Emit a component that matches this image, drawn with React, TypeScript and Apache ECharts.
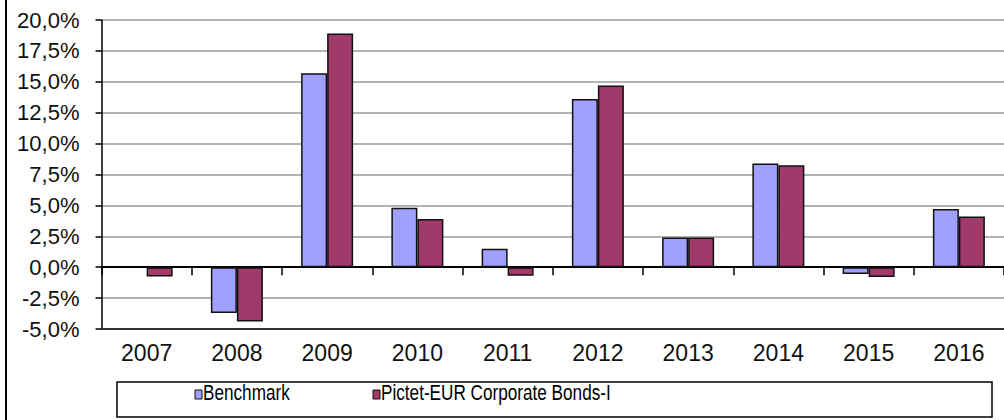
import React, { useEffect, useRef } from "react";
import * as echarts from "echarts";

const years = ["2007", "2008", "2009", "2010", "2011", "2012", "2013", "2014", "2015", "2016"];
const benchmark = [null, -3.7, 15.7, 4.8, 1.5, 13.6, 2.4, 8.4, -0.55, 4.7];
const pictet = [-0.75, -4.4, 18.9, 3.9, -0.7, 14.7, 2.4, 8.25, -0.8, 4.1];
const seriesNames = ["Benchmark", "Pictet-EUR Corporate Bonds-I"];
const seriesColors = ["#A0A0FF", "#A03A6B"];

const FONT = "'Liberation Sans', Arial, sans-serif";

export default function App() {
  const ref = useRef<HTMLDivElement>(null);
  useEffect(() => {
    if (!ref.current) return;
    const chart = echarts.init(ref.current, null, { renderer: "svg" });
    const fmt = (v: number) => v.toFixed(1).replace(".", ",") + "%";
    const legendX = [195, 373];
    const legendItems = seriesNames.flatMap((name, i) => [
      {
        type: "rect",
        shape: { x: legendX[i], y: 390, width: 7, height: 9 },
        style: { fill: seriesColors[i], stroke: "#111", lineWidth: 1 },
      },
      {
        type: "text",
        x: legendX[i] + 8,
        y: 392,
        scaleX: 0.78,
        style: {
          text: name,
          font: "22px 'Liberation Sans', Arial, sans-serif",
          fill: "#000",
          verticalAlign: "middle",
        },
      },
    ]);
    chart.setOption({
      animation: false,
      backgroundColor: "#ffffff",
      textStyle: { fontFamily: FONT },
      grid: { left: 101.5, right: -4, top: 20, bottom: 91, containLabel: false },
      xAxis: [
        {
          type: "category",
          data: years,
          position: "bottom",
          axisLine: { onZero: true, lineStyle: { color: "#000", width: 2 } },
          axisTick: { show: true, length: 8, lineStyle: { color: "#000", width: 1.5 } },
          axisLabel: { show: false },
          splitLine: { show: false },
        },
        {
          type: "category",
          data: years,
          position: "bottom",
          axisLine: { onZero: false, lineStyle: { color: "#333", width: 2 } },
          axisTick: { show: false },
          axisLabel: { show: true, margin: 12, fontSize: 23, color: "#111", fontFamily: FONT },
          splitLine: { show: false },
        },
      ],
      yAxis: {
        type: "value",
        min: -5,
        max: 20,
        interval: 2.5,
        axisLine: { show: true, lineStyle: { color: "#000", width: 1.5 } },
        axisTick: { show: true, length: 6, lineStyle: { color: "#000", width: 1.5 } },
        axisLabel: { formatter: fmt, fontSize: 22, color: "#111", margin: 22, fontFamily: FONT },
        splitLine: { show: true, lineStyle: { color: "#9a9a9a", width: 1.5 } },
      },
      series: [
        {
          name: seriesNames[0],
          type: "bar",
          xAxisIndex: 0,
          data: benchmark,
          barWidth: 26,
          barGap: "0%",
          itemStyle: { color: seriesColors[0], borderColor: "#111", borderWidth: 1.5 },
        },
        {
          name: seriesNames[1],
          type: "bar",
          xAxisIndex: 0,
          data: pictet,
          barWidth: 26,
          barGap: "0%",
          itemStyle: { color: seriesColors[1], borderColor: "#111", borderWidth: 1.5 },
        },
      ],
      graphic: [
        {
          type: "line",
          shape: { x1: 6, y1: 0, x2: 6, y2: 420 },
          style: { stroke: "#000", lineWidth: 2 },
        },
        {
          type: "rect",
          shape: { x: 117, y: 382, width: 875, height: 35 },
          style: { fill: "none", stroke: "#000", lineWidth: 1.5 },
        },
        ...legendItems,
      ],
    });
    return () => chart.dispose();
  }, []);
  return (
    <div
      ref={ref}
      style={{ position: "fixed", left: 0, top: 0, width: 1004, height: 420, background: "#fff" }}
    />
  );
}
